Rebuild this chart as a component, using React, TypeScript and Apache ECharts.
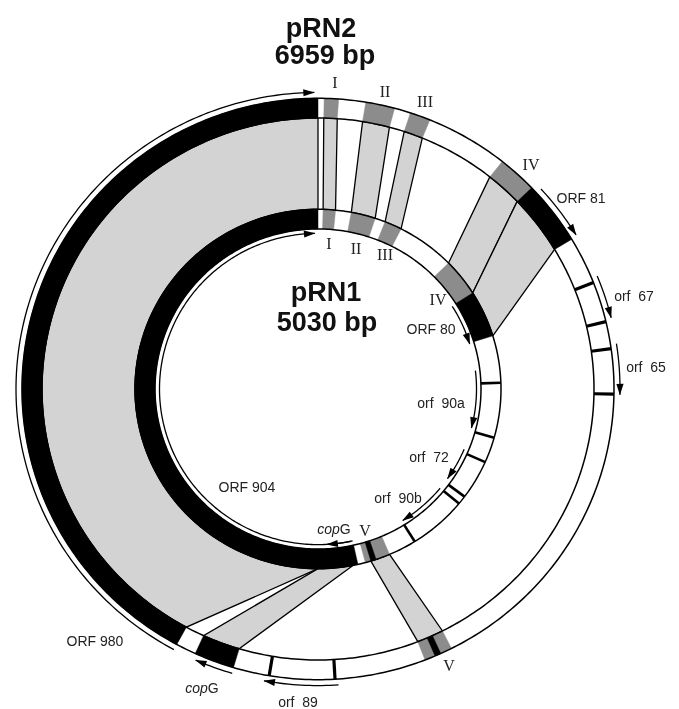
import React, { useEffect, useRef } from "react";
import * as echarts from "echarts";

// ---------- data (angles in degrees, clockwise from 12 o'clock) ----------
// pRN2 (outer ring, 6959 bp)
const pRN2Genes = [
  { name: "ORF 980", start: 208.5, end: 360 },
  { name: "copG", start: 196.6, end: 204.5 },
  { name: "ORF 81", start: 46.2, end: 59.0 },
  { name: "V core", start: 155.5, end: 156.7 },
];
const pRN2Boxes = [
  { name: "I", start: 1.2, end: 4.0 },
  { name: "II", start: 9.3, end: 15.0 },
  { name: "III", start: 18.2, end: 22.2 },
  { name: "IV", start: 38.5, end: 46.2 },
  { name: "V", start: 153.2, end: 158.8 },
];
const pRN2Ticks = [68.5, 76.6, 82.0, 91.0, 176.7, 189.5];
const pRN2Arrows = [
  { name: "ORF 980", start: 208.5, end: 359.3 },
  { name: "ORF 81", start: 47.6, end: 58.7 },
  { name: "orf 67", start: 67.6, end: 76.1 },
  { name: "orf 65", start: 81.2, end: 91.1 },
  { name: "copG", start: 196.5, end: 203.9 },
  { name: "orf 89", start: 176.1, end: 190.3 },
];

// pRN1 (inner ring, 5030 bp)
const pRN1Genes = [
  { name: "ORF 904", start: 167.4, end: 360 },
  { name: "ORF 80", start: 57.7, end: 72.8 },
  { name: "V core", start: 161.5, end: 163.2 },
];
const pRN1Boxes = [
  { name: "I", start: 1.6, end: 5.5 },
  { name: "II", start: 10.5, end: 18.2 },
  { name: "III", start: 21.5, end: 27.0 },
  { name: "IV", start: 45.5, end: 57.7 },
  { name: "V", start: 157.0, end: 165.0 },
];
const pRN1Ticks = [88.0, 105.7, 114.0, 126.8, 129.6, 148.1];
const pRN1Arrows = [
  { name: "ORF 904", start: 168.0, end: 358.9 },
  { name: "copG", start: 167.4, end: 176.8 },
  { name: "ORF 80", start: 57.9, end: 73.2 },
  { name: "orf 90a", start: 83.2, end: 104.5 },
  { name: "orf 72", start: 112.8, end: 125.2 },
  { name: "orf 90b", start: 129.6, end: 147.7 },
];

// homologous regions: [pRN1 start, end] <-> [pRN2 start, end]
const links = [
  { name: "ORF 904 / ORF 980", pRN1: [180, 360], pRN2: [208.5, 360] },
  { name: "copG", pRN1: [169, 180], pRN2: [196.6, 204.5] },
  { name: "I", pRN1: [1.6, 5.5], pRN2: [1.2, 4.0] },
  { name: "II", pRN1: [10.5, 18.2], pRN2: [9.3, 15.0] },
  { name: "III", pRN1: [21.5, 27.0], pRN2: [18.2, 22.2] },
  { name: "IV", pRN1: [45.5, 57.7], pRN2: [38.5, 46.2] },
  { name: "ORF 80 / ORF 81", pRN1: [57.7, 72.8], pRN2: [46.2, 59.0] },
  { name: "V", pRN1: [157.0, 163.2], pRN2: [153.2, 158.8] },
];

// ---------- geometry / style ----------
const K = 0.982; // vertical flattening of the drawing
const OUT_R0 = 276, OUT_R1 = 296, OUT_ARROW = 302;
const IN_R0 = 163, IN_R1 = 183, IN_ARROW = 158.5;
const BLACK = "#000";
const BOX = "#8c8c8c";
const LINK = "#d3d3d3";
const SANS = "'Liberation Sans', Arial, Helvetica, sans-serif";
const SERIF = "'Liberation Serif', 'Times New Roman', serif";

type Lbl = { t: string; x: number; y: number; serif?: boolean; rich?: boolean };
const geneLabels: Lbl[] = [
  { t: "ORF 81", x: 581, y: 198 },
  { t: "orf  67", x: 634, y: 296 },
  { t: "orf  65", x: 646, y: 367 },
  { t: "ORF 80", x: 431, y: 329 },
  { t: "orf  90a", x: 441, y: 403 },
  { t: "orf  72", x: 429, y: 457 },
  { t: "orf  90b", x: 398, y: 498 },
  { t: "ORF 904", x: 247, y: 487 },
  { t: "ORF 980", x: 95, y: 641 },
  { t: "{i|cop}G", x: 334, y: 529, rich: true },
  { t: "{i|cop}G", x: 202, y: 688, rich: true },
  { t: "orf  89", x: 298, y: 702 },
  { t: "I", x: 335, y: 82, serif: true },
  { t: "II", x: 385, y: 91, serif: true },
  { t: "III", x: 425, y: 101, serif: true },
  { t: "IV", x: 531, y: 164, serif: true },
  { t: "V", x: 449, y: 665, serif: true },
  { t: "I", x: 329, y: 243, serif: true },
  { t: "II", x: 356, y: 248, serif: true },
  { t: "III", x: 385, y: 254, serif: true },
  { t: "IV", x: 438, y: 299, serif: true },
  { t: "V", x: 365, y: 530, serif: true },
];

export default function App() {
  const ref = useRef<HTMLDivElement>(null);
  useEffect(() => {
    const chart = echarts.init(ref.current!, null, { renderer: "svg" });

    const renderItem = (_params: any, api: any) => {
      const c0 = api.coord([0, 0]);
      const cy = c0[1];
      const P = (r: number, a: number) => {
        const p = api.coord([r, a]);
        return [p[0], cy + (p[1] - cy) * K];
      };
      const arc = (r: number, a: number, b: number) => {
        const n = Math.max(2, Math.ceil(Math.abs(b - a) / 0.8));
        const pts: number[][] = [];
        for (let i = 0; i <= n; i++) pts.push(P(r, a + ((b - a) * i) / n));
        return pts;
      };
      const band = (r0: number, r1: number, a: number, b: number) => [
        ...arc(r1, a, b),
        ...arc(r0, b, a),
      ];
      const children: any[] = [];

      // homology links
      links.forEach((l) => {
        children.push({
          type: "polygon",
          shape: { points: [...arc(OUT_R0, l.pRN2[0], l.pRN2[1]), ...arc(IN_R1, l.pRN1[1], l.pRN1[0])] },
          style: { fill: LINK, stroke: BLACK, lineWidth: 1.3, lineJoin: "miter" },
        });
      });

      // ring bases
      [[OUT_R0, OUT_R1], [IN_R0, IN_R1]].forEach(([r0, r1]) => {
        children.push({ type: "polygon", shape: { points: band(r0, r1, 0, 360) }, style: { fill: "#fff" } });
      });

      const seg = (list: any[], r0: number, r1: number, fill: string) =>
        list.forEach((s) =>
          children.push({ type: "polygon", shape: { points: band(r0, r1, s.start, s.end) }, style: { fill, stroke: fill, lineWidth: 0.5 } })
        );
      seg(pRN2Boxes, OUT_R0, OUT_R1, BOX);
      seg(pRN1Boxes, IN_R0, IN_R1, BOX);
      seg(pRN2Genes, OUT_R0, OUT_R1, BLACK);
      seg(pRN1Genes, IN_R0, IN_R1, BLACK);

      // ring outlines
      [OUT_R0, OUT_R1, IN_R0, IN_R1].forEach((r) => {
        children.push({ type: "polyline", shape: { points: arc(r, 0, 360) }, style: { fill: null, stroke: BLACK, lineWidth: 1.5 } });
      });

      // ticks (gene boundaries)
      const ticks = (list: number[], r0: number, r1: number, w: number) =>
        list.forEach((a) => {
          const p0 = P(r0, a), p1 = P(r1, a);
          children.push({ type: "line", shape: { x1: p0[0], y1: p0[1], x2: p1[0], y2: p1[1] }, style: { stroke: BLACK, lineWidth: w } });
        });
      ticks(pRN2Ticks, OUT_R0, OUT_R1, 3.2);
      ticks(pRN1Ticks, IN_R0, IN_R1, 2.6);

      // arrows
      const arrows = (list: any[], r: number) =>
        list.forEach((s) => {
          children.push({ type: "polyline", shape: { points: arc(r, s.start, s.end) }, style: { fill: null, stroke: BLACK, lineWidth: 1.3 } });
          const d = (11 / r) * (180 / Math.PI);
          children.push({
            type: "polygon",
            shape: { points: [P(r, s.end + 0.5 * (1 / r) * (180 / Math.PI)), P(r + 3.6, s.end - d), P(r - 3.6, s.end - d)] },
            style: { fill: BLACK },
          });
        });
      arrows(pRN2Arrows, OUT_ARROW);
      arrows(pRN1Arrows, IN_ARROW);

      return { type: "group", children };
    };

    const texts: any[] = geneLabels.map((l) => ({
      type: "text",
      x: l.x,
      y: l.y,
      style: {
        text: l.t,
        fill: "#222",
        fontSize: l.serif ? 16 : 14,
        fontFamily: l.serif ? SERIF : SANS,
        textAlign: "center",
        textVerticalAlign: "middle",
        rich: l.rich ? { i: { fontStyle: "italic", fontSize: 14, fontFamily: SANS, fill: "#222" } } : undefined,
      },
    }));
    const title = (t: string, x: number, y: number) => ({
      type: "text",
      x,
      y,
      style: { text: t, fill: "#111", fontSize: 27, fontWeight: "bold", fontFamily: SANS, textAlign: "center", textVerticalAlign: "middle" },
    });
    texts.push(title("pRN2", 321, 28), title("6959 bp", 325, 55), title("pRN1", 326, 292), title("5030 bp", 327, 322));

    chart.setOption({
      animation: false,
      polar: { center: [318, 389], radius: 296 },
      angleAxis: { type: "value", min: 0, max: 360, startAngle: 90, clockwise: true, show: false },
      radiusAxis: { type: "value", min: 0, max: 296, show: false },
      series: [
        {
          type: "custom",
          coordinateSystem: "polar",
          renderItem,
          data: [[0, 0]],
          clip: false,
          silent: true,
        },
      ],
      graphic: texts,
    });
    return () => chart.dispose();
  }, []);
  return <div ref={ref} style={{ position: "fixed", left: 0, top: 0, width: 679, height: 709 }} />;
}
